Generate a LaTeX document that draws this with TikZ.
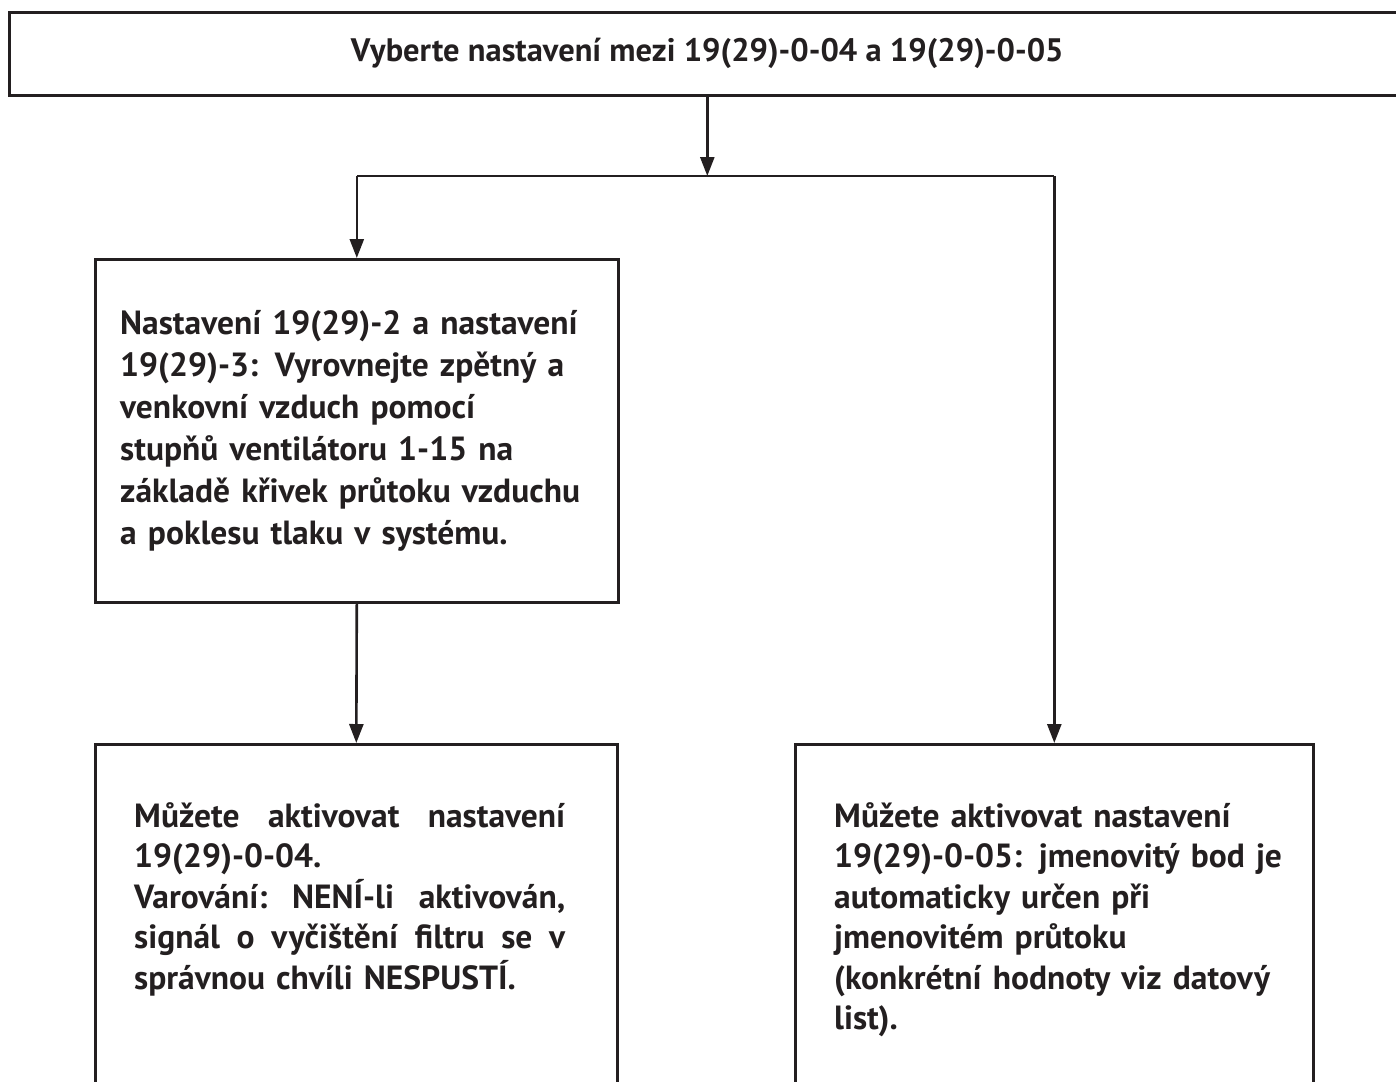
\documentclass[tikz,border=0pt]{standalone}
\usepackage{fontspec}
\setmainfont{PT Sans}
\usetikzlibrary{arrows.meta,positioning}
\definecolor{ink}{RGB}{35,31,32}
\newcommand{\fullline}[1]{\leavevmode\hbox to 431pt{#1}}
\begin{document}
\begin{tikzpicture}[x=1pt,y=-1pt,
        box/.style={draw=ink, line width=2.6pt, inner sep=0pt},
        txt/.style={text=ink, font=\bfseries\fontsize{33.5}{40.5}\selectfont, inner sep=0pt, align=left},
        arr/.style={draw=ink, line width=2.6pt, -{Triangle[length=19pt,width=14pt]}}]
    \useasboundingbox (0,0) rectangle (1396,1081);
    % boxes
    \node[box, txt, font=\bfseries\fontsize{32.5}{40}\selectfont, align=center, anchor=north west,
          minimum width=1396pt, minimum height=83pt] (top) at (8,11)
        {Vyberte nastavení mezi 19(29)-0-04 a 19(29)-0-05};
    \node[box, anchor=north west, minimum width=523pt, minimum height=343pt] (set) at (94,258) {};
    \node[box, anchor=north west, minimum width=522pt, minimum height=360pt] (warn) at (94,743) {};
    \node[box, anchor=north west, minimum width=518pt, minimum height=360pt] (rate) at (794,743) {};
    % texts
    \node[txt, font=\bfseries\fontsize{33.5}{42}\selectfont, text width=480pt, anchor=north west] (settxt) at (120,310)
        {Nastavení 19(29)-2 a nastavení\\
         19(29)-3: Vyrovnejte zpětný a\\
         venkovní vzduch pomocí\\
         stupňů ventilátoru 1-15 na\\
         základě křivek průtoku vzduchu\\
         a poklesu tlaku v systému.};
    \node[txt, text width=431pt, anchor=north west] (warntxt) at (134,802)
        {\fullline{Můžete\hfill aktivovat\hfill nastavení}\\
         19(29)-0-04.\\
         \fullline{Varování:\hfill NENÍ-li\hfill aktivován,}\\
         \fullline{signál\hfill o\hfill vyčištění\hfill filtru\hfill se\hfill v}\\
         správnou chvíli NESPUSTÍ.};
    \node[txt, text width=460pt, anchor=north west] (ratetxt) at (834,802)
        {Můžete aktivovat nastavení\\
         19(29)-0-05: jmenovitý bod je\\
         automaticky určen při\\
         jmenovitém průtoku\\
         (konkrétní hodnoty viz datový\\
         list).};
    % connectors
    \coordinate (split) at (top.south |- 0,176);
    \draw[arr] (top.south) -- (split);
    \draw[line width=2.6pt, draw=ink] (set.north |- split) -- (rate.north |- split);
    \draw[arr] (set.north |- split) -- (set.north);
    \draw[arr] (rate.north |- split) -- (rate.north);
    \draw[arr] (set.south) -- (warn.north);
\end{tikzpicture}
\end{document}
